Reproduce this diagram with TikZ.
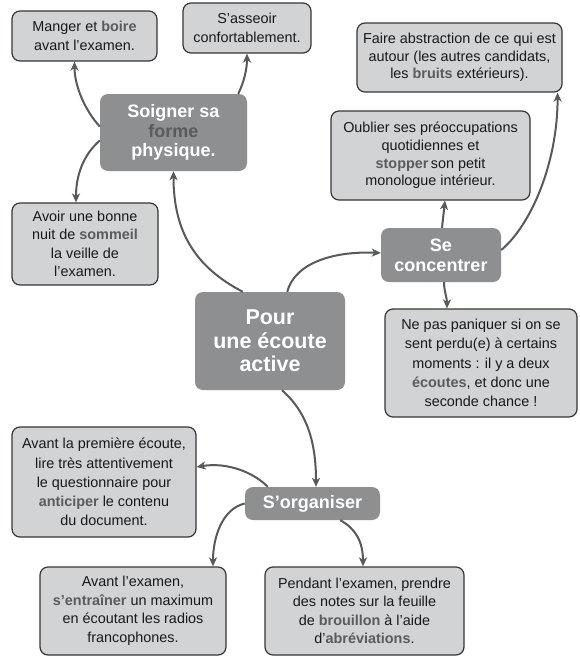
\documentclass[tikz,border=0pt]{standalone}
\usepackage{fontspec}
\setmainfont{Liberation Sans}
\usetikzlibrary{arrows.meta,calc}
\definecolor{boxfill}{HTML}{D2D3D5}
\definecolor{boxline}{HTML}{363636}
\definecolor{darkfill}{HTML}{8E8F91}
\definecolor{kwc}{HTML}{5A5B5D}
\definecolor{conncol}{HTML}{58595B}
\newcommand{\kw}[1]{\textbf{\color{kwc}#1}}
\begin{document}
\begin{tikzpicture}[x=1pt,y=-1pt,
  box/.style={draw=boxline, line width=1.2pt, fill=boxfill, rounded corners=8pt,
    align=center, inner sep=0pt, text=black!90,
    font=\fontsize{14.4}{18.5}\selectfont},
  hub/.style={fill=darkfill, rounded corners=8pt, align=center, inner sep=0pt,
    text=white, font=\bfseries\fontsize{18}{19.8}\selectfont},
  conn/.style={draw=conncol, line width=2pt,
    -{Stealth[length=9pt,width=8pt,inset=2.5pt]}}]
\useasboundingbox[fill=white] (0,0) rectangle (580,657);

% light boxes
\node[box, minimum width=145pt, minimum height=50pt] (manger) at (84.5,36)
  {Manger et \kw{boire}\\avant l'examen.};
\node[box, minimum width=128pt, minimum height=50pt] (asseoir) at (247,28)
  {S'asseoir\\confortablement.};
\node[box, minimum width=205pt, minimum height=69pt,
  font=\fontsize{14.4}{17.6}\selectfont] (faire) at (459.5,57.5)
  {Faire abstraction de ce qui est\\autour (les autres candidats,\\les \kw{bruits} extérieurs).};
\node[box, minimum width=199pt, minimum height=89pt,
  font=\fontsize{14.4}{17.7}\selectfont] (oublier) at (430.5,155.5)
  {Oublier ses préoccupations\\quotidiennes et\\\kw{stopper}\,son petit\\monologue intérieur.};
\node[box, minimum width=146pt, minimum height=82pt] (avoir) at (85,244)
  {Avoir une bonne\\nuit de \kw{sommeil}\\la veille de\\l'examen.};
\node[box, minimum width=192pt, minimum height=108pt,
  font=\fontsize{14.4}{19.4}\selectfont] (panic) at (481,363)
  {Ne pas paniquer si on se\\sent perdu(e) à certains\\moments : il y a deux\\\kw{écoutes}, et donc une\\seconde chance !};
\node[box, minimum width=184pt, minimum height=110pt,
  font=\fontsize{14.4}{19.2}\selectfont] (premiere) at (104,482)
  {Avant la première écoute,\\lire très attentivement\\le questionnaire pour\\\kw{anticiper} le contenu\\du document.};
\node[box, minimum width=186pt, minimum height=88pt] (avant) at (133,611)
  {Avant l'examen,\\\kw{s'entraîner} un maximum\\en écoutant les radios\\francophones.};
\node[box, minimum width=199pt, minimum height=88pt] (pendant) at (364.5,611)
  {Pendant l'examen, prendre\\des notes sur la feuille\\de \kw{brouillon} à l'aide\\d'\kw{abréviations}.};

% dark hubs
\node[hub, minimum width=147pt, minimum height=77pt] (soin) at (173.5,132.5)
  {Soigner sa\\{\color{kwc}forme}\\physique.};
\node[hub, minimum width=120pt, minimum height=54pt] (conc) at (441,255)
  {Se\\concentrer};
\node[hub, minimum width=150pt, minimum height=98pt,
  font=\bfseries\fontsize{21.5}{23.5}\selectfont] (cen) at (270,341)
  {Pour\\une écoute\\active};
\node[hub, minimum width=135pt, minimum height=33pt] (org) at (312.5,503.5)
  {S'organiser};

% connectors
\draw[conn] ($(cen.north west)+(48,0)$) .. controls +(-48,-25) and +(0,60) .. (soin.south);
\draw[conn] ($(soin.west)+(0,-6)$) .. controls +(-14,-15) and +(0,25) .. ($(manger.south)+(-10,0)$);
\draw[conn] ($(soin.north east)+(-9,0)$) .. controls +(6,-12) and +(0,15) .. (asseoir.south);
\draw[conn] ($(soin.west)+(0,8)$) .. controls +(-16,14) and +(0,-28) .. ($(avoir.north)+(-9,0)$);
\draw[conn] ($(cen.north east)+(-58,0)$) .. controls +(8,-30) and +(-45,-2) .. ($(conc.west)+(0,-2)$);
\draw[conn] ($(conc.north)+(1,0)$) -- ($(oublier.south)+(14.5,0)$);
\draw[conn] ($(conc.east)+(0,-5)$) .. controls +(30,-25) and +(0,70) .. ($(faire.south east)+(-5,0)$);
\draw[conn] ($(conc.south)+(3,0)$) .. controls +(0,8) and +(0,-10) .. ($(panic.north)+(-34,0)$);
\draw[conn] ($(cen.south)+(12,0)$) .. controls +(25,22) and +(0,-45) .. ($(org.north)+(3.5,0)$);
\draw[conn] ($(org.north west)+(23,0)$) .. controls +(-15,-15) and +(30,-5) .. ($(premiere.east)+(0,-15)$);
\draw[conn] (org.west) .. controls +(-22,5) and +(0,-30) .. ($(avant.north)+(80,0)$);
\draw[conn] ($(org.south east)+(-40,0)$) .. controls +(15,8) and +(0,-25) .. ($(pendant.north)+(-1.5,0)$);
\end{tikzpicture}
\end{document}
